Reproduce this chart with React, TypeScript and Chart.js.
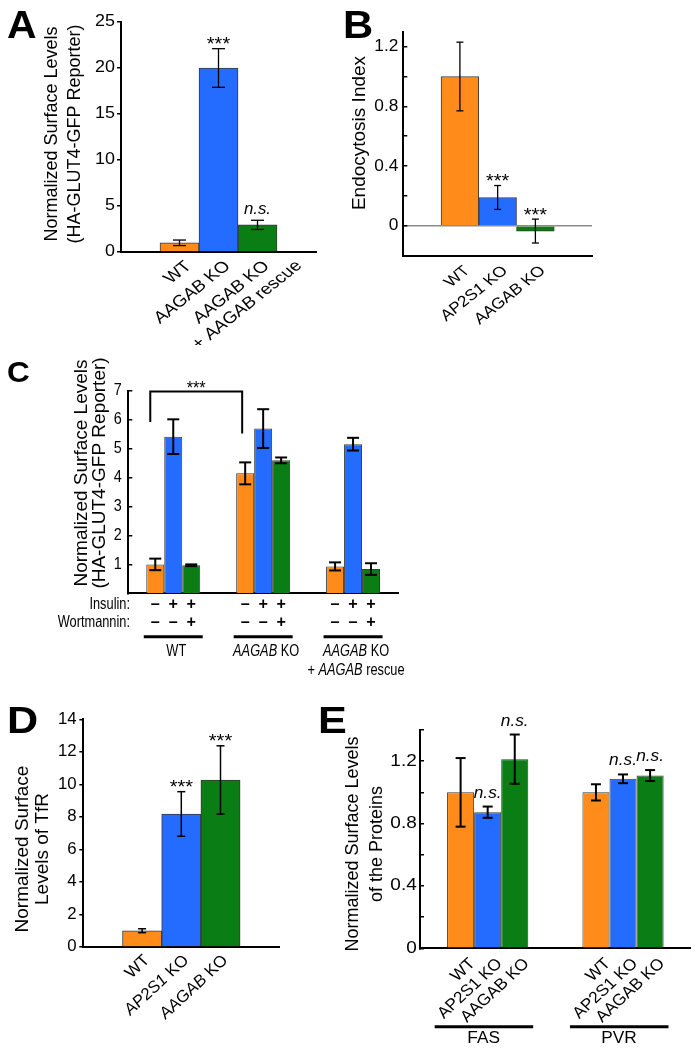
import React, { useEffect, useRef } from 'react';
import { Chart, registerables } from 'chart.js';

Chart.register(...registerables);

const FONT = '"Liberation Sans", Arial, Helvetica, sans-serif';
const ORANGE = '#FF8C1A';
const BLUE = '#246BFF';
const GREEN = '#0A7D15';
const EDGE = '#3a3a3a';

// ---------- Panel A ----------
const aCategories = ['WT', 'AAGAB KO', 'AAGAB KO\n+ AAGAB rescue'];
const aValues = [1.0, 20.0, 2.95];
const aErrors = [0.3, 2.1, 0.5];
const aSignif = ['', '***', 'n.s.'];
const aTicks = [0, 5, 10, 15, 20, 25];

// ---------- Panel B ----------
const bCategories = ['WT', 'AP2S1 KO', 'AAGAB KO'];
const bValues = [1.0, 0.19, -0.035];
const bErrors = [0.23, 0.08, 0.08];
const bSignif = ['', '***', '***'];
const bTicks = [0, 0.2, 0.4, 0.6, 0.8, 1.0, 1.2];

// ---------- Panel C ----------
const cGroups = ['WT', 'AAGAB KO', 'AAGAB KO\n+ AAGAB rescue'];
const cSeriesNames = ['Insulin − / Wortmannin −', 'Insulin + / Wortmannin −', 'Insulin + / Wortmannin +'];
const cInsulinRow = ['–', '+', '+'];
const cWortmanninRow = ['–', '–', '+'];
const cBasal = [1.0, 4.15, 0.93];
const cBasalErr = [0.2, 0.38, 0.14];
const cInsulin = [5.42, 5.7, 5.16];
const cInsulinErr = [0.6, 0.67, 0.22];
const cInsWort = [0.97, 4.6, 0.84];
const cInsWortErr = [0.03, 0.1, 0.2];
const cTicks = [1, 2, 3, 4, 5, 6, 7];

// ---------- Panel D ----------
const dCategories = ['WT', 'AP2S1 KO', 'AAGAB KO'];
const dValues = [1.0, 8.18, 10.27];
const dErrors = [0.12, 1.37, 2.1];
const dSignif = ['', '***', '***'];
const dTicks = [0, 2, 4, 6, 8, 10, 12, 14];

// ---------- Panel E ----------
const eGroups = ['FAS', 'PVR'];
const eSeries = ['WT', 'AP2S1 KO', 'AAGAB KO'];
const eWT = [1.0, 1.0];
const eWTErr = [0.22, 0.052];
const eAP2S1 = [0.873, 1.087];
const eAP2S1Err = [0.036, 0.028];
const eAAGAB = [1.213, 1.108];
const eAAGABErr = [0.158, 0.035];
const eSignifWT = ['', ''];
const eSignifAP2S1 = ['n.s.', 'n.s.'];
const eSignifAAGAB = ['n.s.', 'n.s.'];
const eTicks = [0, 0.2, 0.4, 0.6, 0.8, 1.0, 1.2, 1.4];

// ---------- text helpers ----------
type TOpt = {
  size: number;
  sx?: number;
  rot?: number;
  align?: 'left' | 'center' | 'right';
  baseline?: CanvasTextBaseline;
  italic?: boolean;
  bold?: boolean;
  plain?: boolean;
  lh?: number;
  mode?: 'block' | 'first';
  color?: string;
};

function segments(line: string, o: TOpt) {
  if (o.italic) return [{ t: line, it: true }];
  if (o.plain) return [{ t: line, it: false }];
  return line
    .split(/(AAGAB|AP2S1)/)
    .filter((p) => p.length > 0)
    .map((t) => ({ t, it: t === 'AAGAB' || t === 'AP2S1' }));
}
function fontOf(size: number, it: boolean, bold?: boolean) {
  return `${it ? 'italic ' : ''}${bold ? 'bold ' : ''}${size}px ${FONT}`;
}
function measureLine(ctx: CanvasRenderingContext2D, line: string, o: TOpt) {
  let w = 0;
  for (const s of segments(line, o)) {
    ctx.font = fontOf(o.size, s.it, o.bold);
    w += ctx.measureText(s.t).width;
  }
  return w;
}
function fillLine(ctx: CanvasRenderingContext2D, line: string, x: number, y: number, o: TOpt, align: string) {
  const w = measureLine(ctx, line, o);
  let cx = align === 'left' ? x : align === 'center' ? x - w / 2 : x - w;
  ctx.textAlign = 'left';
  for (const s of segments(line, o)) {
    ctx.font = fontOf(o.size, s.it, o.bold);
    ctx.fillText(s.t, cx, y);
    cx += ctx.measureText(s.t).width;
  }
}
function drawText(ctx: CanvasRenderingContext2D, lines: string[], x: number, y: number, o: TOpt) {
  ctx.save();
  ctx.translate(x, y);
  ctx.scale(o.sx ?? 1, 1);
  if (o.rot) ctx.rotate((-o.rot * Math.PI) / 180);
  ctx.fillStyle = o.color ?? '#000';
  ctx.textBaseline = o.baseline ?? 'alphabetic';
  const lh = o.lh ?? o.size * 1.2;
  const n = lines.length;
  if (o.mode === 'first') {
    const w1 = measureLine(ctx, lines[0], o);
    const align = o.align ?? 'right';
    const c = align === 'right' ? -w1 / 2 : align === 'left' ? w1 / 2 : 0;
    lines.forEach((ln, i) => fillLine(ctx, ln, c, i * lh, o, 'center'));
  } else {
    lines.forEach((ln, i) => fillLine(ctx, ln, 0, (i - (n - 1) / 2) * lh, o, o.align ?? 'center'));
  }
  ctx.restore();
}
function strokeLine(ctx: CanvasRenderingContext2D, pts: number[][], w: number) {
  ctx.save();
  ctx.strokeStyle = '#000';
  ctx.lineWidth = w;
  ctx.lineCap = 'butt';
  ctx.lineJoin = 'miter';
  ctx.beginPath();
  pts.forEach((p, i) => (i === 0 ? ctx.moveTo(p[0], p[1]) : ctx.lineTo(p[0], p[1])));
  ctx.stroke();
  ctx.restore();
}

// ---------- panel spec ----------
interface Series {
  name: string;
  data: (number | null)[];
  err: (number | null)[];
  color: string | string[];
  signif: string[];
}
interface PanelSpec {
  box: number[];
  area: number[];
  labels: string[];
  series: Series[];
  catPct: number;
  yMin: number;
  yMax: number;
  yTicks: number[];
  tickLabel: (v: number) => string;
  tickDir: number;
  zeroLine?: boolean;
  errW: number;
  capW: number;
  tick: { size: number; sx: number; right: number };
  letter: { t: string; x: number; y: number; size: number; sx: number };
  title: { lines: string[]; x: number; y: number; size: number; lh: number; sx: number };
  xl?: { size: number; sx: number; dx: number; dy: number; lh: number; plain?: boolean; text: (di: number, i: number) => string };
  sig: { size: number; sx: number; nsSize: number; nsGap: number; starGap: number };
  extra?: (chart: any, ctx: CanvasRenderingContext2D, toX: (x: number) => number, toY: (y: number) => number) => void;
}

function pad<T>(arr: T[]): (T | null)[] {
  return [null, ...arr, null];
}

function buildChart(canvas: HTMLCanvasElement, s: PanelSpec) {
  const [bl, bt, bw, bh] = s.box;
  const [al, at, ar, ab] = s.area;
  const toX = (x: number) => x - bl;
  const toY = (y: number) => y - bt;

  const plugin = {
    id: 'panelExtras' + s.letter.t,
    afterDatasetsDraw(chart: any) {
      const ctx: CanvasRenderingContext2D = chart.ctx;
      const ys = chart.scales.y;
      s.series.forEach((se, di) => {
        const meta = chart.getDatasetMeta(di);
        meta.data.forEach((el: any, i: number) => {
          const v = se.data[i];
          const e = se.err[i];
          if (v == null || e == null) return;
          const x = el.x;
          const y1 = ys.getPixelForValue(v + e);
          const y2 = ys.getPixelForValue(v - e);
          const h = s.capW / 2;
          strokeLine(ctx, [[x, y1], [x, y2]], s.errW);
          strokeLine(ctx, [[x - h, y1], [x + h, y1]], s.errW);
          strokeLine(ctx, [[x - h, y2], [x + h, y2]], s.errW);
          const sg = se.signif[i];
          if (sg === '***') {
            drawText(ctx, [sg], x, y1 - s.sig.starGap, { size: s.sig.size, sx: s.sig.sx, align: 'center' });
          } else if (sg) {
            drawText(ctx, [sg], x, y1 - s.sig.nsGap, { size: s.sig.nsSize, sx: s.sig.sx, align: 'center', italic: true });
          }
        });
      });
    },
    afterDraw(chart: any) {
      const ctx: CanvasRenderingContext2D = chart.ctx;
      const ys = chart.scales.y;
      drawText(ctx, [s.letter.t], toX(s.letter.x), toY(s.letter.y), { size: s.letter.size, sx: s.letter.sx, bold: true, align: 'left' });
      drawText(ctx, s.title.lines, toX(s.title.x), toY(s.title.y), {
        size: s.title.size, sx: s.title.sx, rot: 90, align: 'center', baseline: 'middle', lh: s.title.lh, plain: true,
      });
      s.yTicks.forEach((v) => {
        const lab = s.tickLabel(v);
        if (!lab) return;
        drawText(ctx, [lab], toX(s.tick.right), ys.getPixelForValue(v), { size: s.tick.size, sx: s.tick.sx, align: 'right', baseline: 'middle' });
      });
      if (s.xl) {
        const xl = s.xl;
        s.series.forEach((se, di) => {
          const meta = chart.getDatasetMeta(di);
          meta.data.forEach((el: any, i: number) => {
            if (se.data[i] == null) return;
            const txt = xl.text(di, i);
            if (!txt) return;
            drawText(ctx, txt.split('\n'), el.x + xl.dx, chart.chartArea.bottom + xl.dy, {
              size: xl.size, sx: xl.sx, rot: 45, align: 'right', baseline: 'middle', lh: xl.lh, mode: 'first', plain: xl.plain,
            });
          });
        });
      }
      if (s.extra) s.extra(chart, ctx, toX, toY);
    },
  };

  const datasets = s.series.map((se) => ({
    label: se.name,
    data: se.data,
    backgroundColor: se.color,
    borderColor: EDGE,
    borderWidth: 1,
    borderSkipped: 'start',
    categoryPercentage: s.catPct,
    barPercentage: 1,
  }));

  return new Chart(canvas, {
    type: 'bar',
    data: { labels: s.labels, datasets: datasets as any },
    options: {
      responsive: false,
      maintainAspectRatio: false,
      animation: false,
      events: [],
      plugins: { legend: { display: false }, tooltip: { enabled: false }, title: { display: false } },
      layout: { padding: { left: 0, top: at - bt, right: bl + bw - ar, bottom: bt + bh - ab } },
      scales: {
        x: {
          z: 1,
          grid: { display: true, drawOnChartArea: false, drawTicks: false },
          border: { display: true, color: '#000', width: 2 },
          ticks: { display: false },
          afterFit: (sc: any) => {
            sc.height = 0;
          },
        },
        y: {
          min: s.yMin,
          max: s.yMax,
          grid: {
            display: true,
            drawOnChartArea: !!s.zeroLine,
            drawTicks: true,
            tickLength: 4 * s.tickDir,
            tickColor: '#000',
            tickWidth: 1.5,
            lineWidth: 1.5,
            color: (c: any) => (s.zeroLine && c.tick && c.tick.value === 0 ? '#8c8c8c' : 'rgba(0,0,0,0)'),
          },
          border: { display: true, color: '#000', width: 2 },
          ticks: { display: false },
          afterBuildTicks: (sc: any) => {
            sc.ticks = s.yTicks.map((value) => ({ value }));
          },
          afterFit: (sc: any) => {
            sc.width = al - bl;
          },
        },
      },
    } as any,
    plugins: [plugin as any],
  });
}

function Panel({ spec }: { spec: PanelSpec }) {
  const ref = useRef<HTMLCanvasElement>(null);
  useEffect(() => {
    const chart = buildChart(ref.current as HTMLCanvasElement, spec);
    return () => chart.destroy();
  }, []);
  const [l, t, w, h] = spec.box;
  return <canvas ref={ref} width={w} height={h} style={{ position: 'absolute', left: l, top: t, width: w, height: h }} />;
}

const every04 = (v: number) => {
  const q = v / 0.4;
  if (Math.abs(q - Math.round(q)) > 1e-6) return '';
  return v === 0 ? '0' : v.toFixed(1);
};

const TRI = [ORANGE, BLUE, GREEN];

const specA: PanelSpec = {
  box: [0, 0, 340, 345],
  area: [121, 22, 316, 252],
  labels: ['', ...aCategories, ''],
  series: [{ name: 'A', data: pad(aValues), err: pad(aErrors), color: ['transparent', ...TRI, 'transparent'], signif: ['', ...aSignif, ''] }],
  catPct: 1,
  yMin: 0,
  yMax: 25,
  yTicks: aTicks,
  tickLabel: (v) => String(v),
  tickDir: 1,
  errW: 1.3,
  capW: 13,
  tick: { size: 16, sx: 1.12, right: 115 },
  letter: { t: 'A', x: 7, y: 38, size: 39, sx: 1.05 },
  title: { lines: ['Normalized Surface Levels', '(HA-GLUT4-GFP Reporter)'], x: 63.5, y: 134, size: 18, lh: 23, sx: 1 },
  xl: { size: 15.5, sx: 1.25, dx: 9, dy: 12, lh: 18, text: (di, i) => ['', ...aCategories, ''][i] },
  sig: { size: 19, sx: 1.05, nsSize: 16, nsGap: 6, starGap: -1.5 },
};

const specB: PanelSpec = {
  box: [335, 0, 364, 330],
  area: [403.3, 31.7, 592, 255.7],
  labels: ['', ...bCategories, ''],
  series: [{ name: 'B', data: pad(bValues), err: pad(bErrors), color: ['transparent', ...TRI, 'transparent'], signif: ['', ...bSignif, ''] }],
  catPct: 1,
  yMin: -0.2,
  yMax: 1.3,
  yTicks: bTicks,
  tickLabel: every04,
  tickDir: -1,
  zeroLine: true,
  errW: 1.3,
  capW: 7,
  tick: { size: 16, sx: 1.08, right: 398.3 },
  letter: { t: 'B', x: 343, y: 38, size: 38, sx: 1.1 },
  title: { lines: ['Endocytosis Index'], x: 360, y: 133, size: 19, lh: 19, sx: 1 },
  xl: { size: 14.5, sx: 1.25, dx: 7.5, dy: 13, lh: 16, text: (di, i) => ['', ...bCategories, ''][i] },
  sig: { size: 19, sx: 1.05, nsSize: 16, nsGap: 6, starGap: -1.5 },
};

const specC: PanelSpec = {
  box: [0, 345, 699, 355],
  area: [128.3, 391, 398, 593.3],
  labels: cGroups,
  series: [
    { name: cSeriesNames[0], data: cBasal, err: cBasalErr, color: ORANGE, signif: ['', '', ''] },
    { name: cSeriesNames[1], data: cInsulin, err: cInsulinErr, color: BLUE, signif: ['', '', ''] },
    { name: cSeriesNames[2], data: cInsWort, err: cInsWortErr, color: GREEN, signif: ['', '', ''] },
  ],
  catPct: 0.6,
  yMin: 0,
  yMax: 7,
  yTicks: cTicks,
  tickLabel: (v) => String(v),
  tickDir: -1,
  errW: 2,
  capW: 12,
  tick: { size: 16, sx: 0.9, right: 121.7 },
  letter: { t: 'C', x: 7, y: 382, size: 30, sx: 1.05 },
  title: { lines: ['Normalized Surface Levels', '(HA-GLUT4-GFP Reporter)'], x: 91, y: 473, size: 19, lh: 18.5, sx: 1 },
  sig: { size: 18, sx: 0.9, nsSize: 14, nsGap: 6, starGap: 0 },
  extra: (chart, ctx, toX, toY) => {
    const xs = chart.scales.x;
    const ys = chart.scales.y;
    const rowOpt = { size: 16, sx: 0.8, align: 'right' as const };
    drawText(ctx, ['Insulin:'], toX(130), toY(608.7), rowOpt);
    drawText(ctx, ['Wortmannin:'], toX(130), toY(627.3), rowOpt);
    for (let di = 0; di < 3; di++) {
      const meta = chart.getDatasetMeta(di);
      meta.data.forEach((el: any) => {
        drawText(ctx, [cInsulinRow[di]], el.x, toY(608.7), { size: 17, sx: 0.95, align: 'center', bold: true });
        drawText(ctx, [cWortmanninRow[di]], el.x, toY(627.3), { size: 17, sx: 0.95, align: 'center', bold: true });
      });
    }
    cGroups.forEach((g, gi) => {
      const gx = xs.getPixelForValue(gi);
      strokeLine(ctx, [[gx - 29.5, toY(636.7)], [gx + 29.5, toY(636.7)]], 3);
      drawText(ctx, g.split('\n'), gx + 3, toY(655.5), { size: 16, sx: 0.8, align: 'center', lh: 19.5, mode: 'first' });
    });
    const m0 = chart.getDatasetMeta(0);
    const xL = m0.data[0].x - 5;
    const xR = m0.data[1].x - 3;
    const yTop = ys.getPixelForValue(6.98);
    strokeLine(ctx, [[xL, ys.getPixelForValue(5.93)], [xL, yTop], [xR, yTop], [xR, ys.getPixelForValue(5.53)]], 2);
    drawText(ctx, ['***'], (xL + xR) / 2, yTop + 2, { size: 18, sx: 0.9, align: 'center' });
  },
};

const specD: PanelSpec = {
  box: [0, 700, 320, 350],
  area: [83.3, 719.3, 279.3, 947],
  labels: ['', ...dCategories, ''],
  series: [{ name: 'D', data: pad(dValues), err: pad(dErrors), color: ['transparent', ...TRI, 'transparent'], signif: ['', ...dSignif, ''] }],
  catPct: 1,
  yMin: 0,
  yMax: 14,
  yTicks: dTicks,
  tickLabel: (v) => String(v),
  tickDir: 1,
  errW: 1.5,
  capW: 8,
  tick: { size: 16, sx: 1.05, right: 76.7 },
  letter: { t: 'D', x: 7, y: 733, size: 36, sx: 1.2 },
  title: { lines: ['Normalized Surface', 'Levels of TfR'], x: 32.5, y: 849, size: 19, lh: 20, sx: 1 },
  xl: { size: 16, sx: 1.08, dx: 5, dy: 11, lh: 17, text: (di, i) => ['', ...dCategories, ''][i] },
  sig: { size: 19, sx: 1.05, nsSize: 14, nsGap: 6, starGap: -1.5 },
};

const specE: PanelSpec = {
  box: [310, 700, 389, 350],
  area: [420, 730, 690.7, 948.3],
  labels: eGroups,
  series: [
    { name: eSeries[0], data: eWT, err: eWTErr, color: ORANGE, signif: eSignifWT },
    { name: eSeries[1], data: eAP2S1, err: eAP2S1Err, color: BLUE, signif: eSignifAP2S1 },
    { name: eSeries[2], data: eAAGAB, err: eAAGABErr, color: GREEN, signif: eSignifAAGAB },
  ],
  catPct: 0.6,
  yMin: 0,
  yMax: 1.4,
  yTicks: eTicks,
  tickLabel: every04,
  tickDir: -1,
  errW: 2,
  capW: 10,
  tick: { size: 16.5, sx: 1.15, right: 416.7 },
  letter: { t: 'E', x: 318, y: 733, size: 36, sx: 1.2 },
  title: { lines: ['Normalized Surface Levels', 'of the Proteins'], x: 365.5, y: 844, size: 18, lh: 24, sx: 1 },
  xl: { size: 16, sx: 1.08, dx: 12, dy: 13, lh: 17, plain: true, text: (di) => eSeries[di] },
  sig: { size: 19, sx: 1.08, nsSize: 16, nsGap: 9, starGap: -1.5 },
  extra: (chart, ctx, toX, toY) => {
    const xs = chart.scales.x;
    eGroups.forEach((g, gi) => {
      const gx = xs.getPixelForValue(gi);
      strokeLine(ctx, [[gx - 53, toY(1026.7)], [gx + 45.5, toY(1026.7)]], 3);
      drawText(ctx, [g], gx - 4, toY(1043.3), { size: 16, sx: 1.08, align: 'center' });
    });
  },
};

export default function App() {
  return (
    <div style={{ position: 'absolute', left: 0, top: 0, width: 699, height: 1050, background: '#fff', overflow: 'hidden' }}>
      <Panel spec={specA} />
      <Panel spec={specB} />
      <Panel spec={specC} />
      <Panel spec={specD} />
      <Panel spec={specE} />
    </div>
  );
}
